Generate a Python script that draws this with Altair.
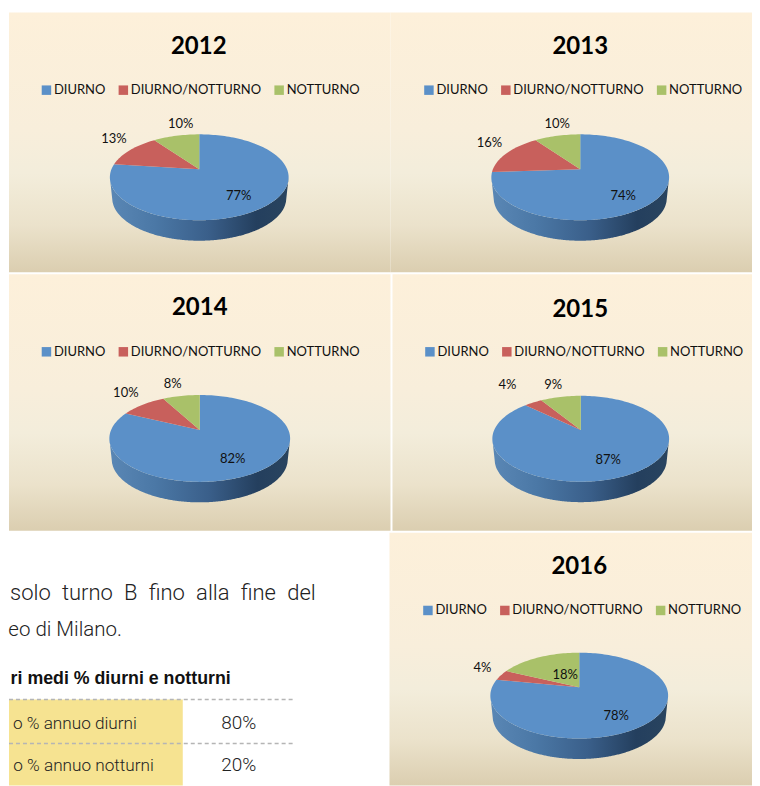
import math
import altair as alt
import pandas as pd

CATEGORIES = ["DIURNO", "DIURNO/NOTTURNO", "NOTTURNO"]
COLORS = ["#5b90c8", "#c8605c", "#a9c169"]
YEARS = ["2012", "2013", "2014", "2015", "2016"]
VAL_2012 = [77, 13, 10]
VAL_2013 = [74, 16, 10]
VAL_2014 = [82, 10, 8]
VAL_2015 = [87, 4, 9]
VAL_2016 = [78, 4, 18]

TEXT_LINE_1 = "solo\u2002turno\u2002B\u2002fino\u2002alla\u2002fine\u2002del"
TEXT_LINE_2 = "eo di Milano."
TABLE_TITLE = "ri medi % diurni e notturni"
TABLE_ROWS = ["o % annuo diurni", "o % annuo notturni"]
TABLE_VALUES = ["80%", "20%"]

SANS = "Lato"
BODY = "Roboto"

BG = alt.Gradient(gradient="linear", x1=0, x2=0, y1=0, y2=1, stops=[
    alt.GradientStop(color="#fdf0da", offset=0),
    alt.GradientStop(color="#f8eedb", offset=0.45),
    alt.GradientStop(color="#f3eddb", offset=0.62),
    alt.GradientStop(color="#ebe2cb", offset=0.82),
    alt.GradientStop(color="#dbceb0", offset=1),
])
SIDE = alt.Gradient(gradient="linear", x1=0, x2=1, y1=0, y2=0, stops=[
    alt.GradientStop(color="#5a87b5", offset=0),
    alt.GradientStop(color="#4b78a6", offset=0.25),
    alt.GradientStop(color="#3a5f8a", offset=0.55),
    alt.GradientStop(color="#243f5e", offset=0.82),
    alt.GradientStop(color="#29445f", offset=1),
])


def project(u, v, k):
    # perspective of the tilted disc: the centre of the pie sits above the ellipse centre
    d = 1 + k * v
    return u * math.sqrt(1 - k * k) / d, (v + k) / d


def slices(values, k):
    rows = []
    start = 0.0
    for cat, val in zip(CATEGORIES, values):
        n = max(4, int(val * 2))
        ax, ay = project(0, 0, k)
        rows.append({"slice": cat, "i": 0, "x": ax, "y": ay})
        for j in range(n + 1):
            a = 2 * math.pi * (start + val * j / n) / 100
            x, y = project(math.sin(a), math.cos(a), k)
            rows.append({"slice": cat, "i": j + 1, "x": x, "y": y})
        rows.append({"slice": cat, "i": n + 2, "x": ax, "y": ay})
        start += val
    return pd.DataFrame(rows)


def side_wall(depth, ry):
    rows = []
    taper = 0.975
    for j in range(-100, 101):
        x = j / 100
        top = -math.sqrt(max(0, 1 - x * x))
        if abs(x) <= taper:
            bottom = -depth - math.sqrt(1 - (x / taper) ** 2)
        else:
            bottom = -depth * (1 - abs(x)) / (1 - taper)
        rows.append({"x": x, "y": top, "y2": bottom})
    return pd.DataFrame(rows)


def panel(year, values, w, h, ox, oy, cx, cy, rx, ry, apex, title_xy, legend_xy, label_xy, depth=20.5):
    lx, ly = cx - ox, cy - oy
    sx = alt.Scale(domain=[-lx / rx, (w - lx) / rx], range=[0, w], nice=False, zero=False)
    sy = alt.Scale(domain=[-(h - ly) / ry, ly / ry], range=[h, 0], nice=False, zero=False)
    k = (cy - apex) / ry

    one = pd.DataFrame({"a": [0]})
    bg = alt.Chart(one).mark_rect(fill=BG, strokeWidth=0).encode(
        x=alt.value(0), x2=alt.value(w), y=alt.value(0), y2=alt.value(h))

    wall = alt.Chart(side_wall(depth / ry, ry)).mark_area(fill=SIDE, strokeWidth=0).encode(
        x=alt.X("x:Q", scale=sx, axis=None),
        y=alt.Y("y:Q", scale=sy, axis=None),
        y2="y2:Q",
    )

    top = alt.Chart(slices(values, k)).mark_line(strokeWidth=0, strokeOpacity=0).encode(
        x=alt.X("x:Q", scale=sx, axis=None),
        y=alt.Y("y:Q", scale=sy, axis=None),
        order="i:Q",
        detail="slice:N",
        fill=alt.Fill("slice:N", scale=alt.Scale(domain=CATEGORIES, range=COLORS),
                      legend=alt.Legend(title=None, orient="none", direction="horizontal", columns=3,
                                        legendX=legend_xy[0] - ox - 3, legendY=legend_xy[1] - oy,
                                        symbolType="square", symbolSize=90, symbolStrokeWidth=0,
                                        labelFont=SANS, labelFontSize=13, labelColor="#111111",
                                        labelOffset=1, columnPadding=11, padding=0)),
    )

    layers = [bg, wall, top]
    t = alt.Chart(pd.DataFrame({"t": [year]})).mark_text(
        font=SANS, fontWeight="bold", fontSize=24, color="#000000", align="center", baseline="middle", dy=2
    ).encode(text="t:N", x=alt.value(title_xy[0] - ox), y=alt.value(title_xy[1] - oy))
    layers.append(t)

    for val, (px, py) in zip(values, label_xy):
        lab = alt.Chart(pd.DataFrame({"v": [val]})).transform_calculate(
            s="datum.v + '%'"
        ).mark_text(
            font=SANS, fontSize=13, color="#111111", align="center", baseline="middle", dy=2
        ).encode(text="s:N", x=alt.value(px - ox), y=alt.value(py - oy))
        layers.append(lab)

    return alt.layer(*layers).properties(width=w, height=h)


p2012 = panel(YEARS[0], VAL_2012, 382, 260, 8, 12, 198.5, 177, 89.5, 43, 169,
              (198, 45), (42, 83), [(238, 194), (113, 137), (180, 122)])
p2013 = panel(YEARS[1], VAL_2013, 362, 260, 390, 12, 580, 177, 89, 43, 169,
              (580, 45), (425, 83), [(623, 194), (489, 141), (557, 122)])
p2014 = panel(YEARS[2], VAL_2014, 382, 257, 8, 274, 199, 438.5, 90.5, 43.5, 430,
              (199, 306), (42, 345), [(232, 457), (125, 391), (172, 382)])
p2015 = panel(YEARS[3], VAL_2015, 360, 257, 392, 274, 580.5, 438.8, 88.5, 43, 430,
              (580, 308), (426, 345), [(608, 458), (507, 383), (553, 383)])
p2016 = panel(YEARS[4], VAL_2016, 363, 253, 389, 533, 579, 696, 89, 43, 687.7,
              (579, 565), (424, 604), [(616, 714), (482, 666), (565, 673)])

# text block on white, at the left of the last row
TX, TY = 8, 533
one = pd.DataFrame({"a": [0]})


def txt(s, x, y, size, align="left", weight=300, font=BODY, color="#222222"):
    return alt.Chart(pd.DataFrame({"t": [s]})).mark_text(
        font=font, fontSize=size, fontWeight=weight, color=color, align=align, baseline="alphabetic"
    ).encode(text="t:N", x=alt.value(x - TX), y=alt.value(y - TY))


white = alt.Chart(one).mark_rect(fill="#ffffff", strokeWidth=0).encode(
    x=alt.value(0), x2=alt.value(381), y=alt.value(0), y2=alt.value(253))
yellow = alt.Chart(one).mark_rect(fill="#f6e391", strokeWidth=0).encode(
    x=alt.value(0), x2=alt.value(182 - TX), y=alt.value(700 - TY), y2=alt.value(253))
rules = [
    alt.Chart(one).mark_rule(color="#b5b5b5", strokeWidth=1.5, strokeDash=[4, 3]).encode(
        x=alt.value(0), x2=alt.value(294 - TX), y=alt.value(yy - TY))
    for yy in (700, 744)
]
text_panel = alt.layer(
    white, yellow, *rules,
    txt(TEXT_LINE_1, 9, 600, 22),
    txt(TEXT_LINE_2, 121, 636, 20.5, align="right"),
    txt(TABLE_TITLE, 230, 684, 17.8, align="right", weight="bold", font="Liberation Sans", color="#111111"),
    txt(TABLE_ROWS[0], 136, 729, 17.2, align="right"),
    txt(TABLE_ROWS[1], 153, 772, 17.2, align="right"),
    txt(TABLE_VALUES[0], 238, 729, 19, align="center"),
    txt(TABLE_VALUES[1], 238, 772, 19, align="center"),
).properties(width=381, height=253)

row1 = alt.hconcat(p2012, p2013, spacing=0).resolve_scale(fill="independent")
row2 = alt.hconcat(p2014, p2015, spacing=2).resolve_scale(fill="independent")
row3 = alt.hconcat(text_panel, p2016, spacing=0).resolve_scale(fill="independent")

chart = alt.vconcat(row1, row2, row3, spacing=2).resolve_scale(fill="independent").properties(
    padding={"top": 4, "left": 0, "right": 0, "bottom": 0},
    background="#ffffff",
).configure_view(strokeWidth=0)

chart.save("out.html", embed_options={"renderer": "svg", "actions": False})
